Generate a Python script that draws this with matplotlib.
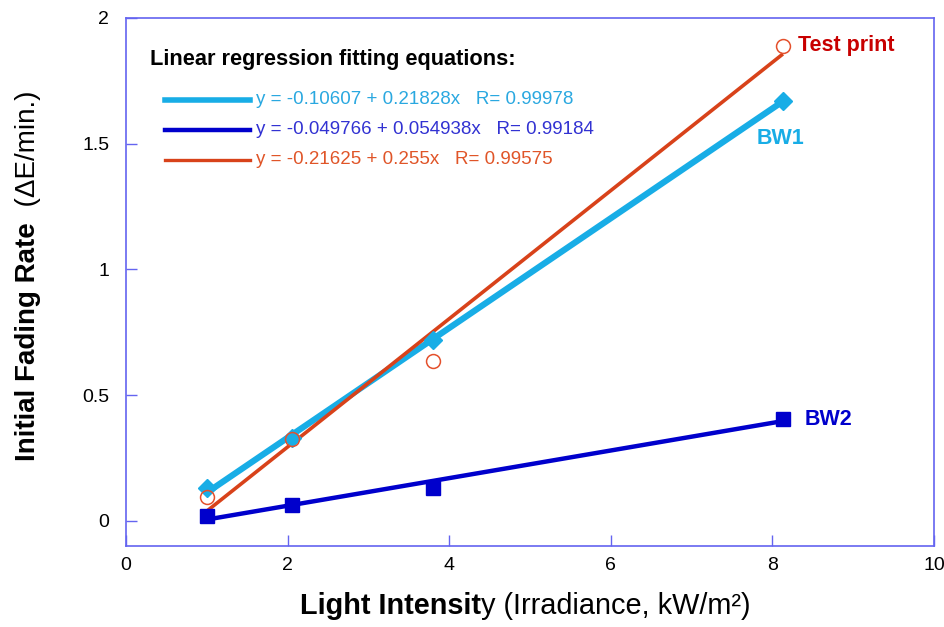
import matplotlib
matplotlib.use("Agg")
import matplotlib.pyplot as plt
import numpy as np

plt.rcParams["font.family"] = ["Liberation Sans", "DejaVu Sans"]

# Measured light intensity (kW/m²) and initial fading rates (ΔE/min.)
irradiance = [1.0, 2.05, 3.80, 8.13]
bw1_rate = [0.13, 0.33, 0.72, 1.67]
bw2_rate = [0.018, 0.062, 0.13, 0.405]
test_rate = [0.095, 0.325, 0.635, 1.89]

# Linear fits: (intercept, slope, R)
bw1_fit = (-0.10607, 0.21828, 0.99978)
bw2_fit = (-0.049766, 0.054938, 0.99184)
test_fit = (-0.21625, 0.255, 0.99575)

x_ticks = [0, 2, 4, 6, 8, 10]
y_ticks = [0, 0.5, 1, 1.5, 2]
y_tick_labels = ["0", "0.5", "1", "1.5", "2"]

c_bw1 = "#18ade6"
c_bw2 = "#0000cc"
c_test = "#d8421a"
c_test_marker = "#e4502c"
c_spine = "#6464f0"

fig = plt.figure(figsize=(9.45, 6.27), dpi=100)
ax = fig.add_axes([126 / 945, 1 - 546 / 627, (934 - 126) / 945, (546 - 18) / 627])

xs = np.array([irradiance[0], irradiance[-1]])

def fit_line(fit):
    return fit[0] + fit[1] * xs

ax.plot(xs, fit_line(bw1_fit), color=c_bw1, lw=4.5, solid_capstyle="butt", zorder=2)
ax.plot(xs, fit_line(test_fit), color=c_test, lw=2.6, solid_capstyle="butt", zorder=3)
ax.plot(xs, fit_line(bw2_fit), color=c_bw2, lw=3.2, solid_capstyle="butt", zorder=3)

ax.plot(irradiance, bw1_rate, ls="none", marker="D", ms=9, color=c_bw1, zorder=4)
ax.plot(irradiance, bw2_rate, ls="none", marker="s", ms=10, color=c_bw2, zorder=4)
ax.plot(irradiance, test_rate, ls="none", marker="o", ms=10, mfc="none",
        mec=c_test_marker, mew=1.1, zorder=5)

ax.set_xlim(0, 10)
ax.set_ylim(-0.1, 2)
ax.set_xticks(x_ticks)
ax.set_yticks(y_ticks)
ax.set_yticklabels(y_tick_labels)
ax.tick_params(direction="in", length=8, width=1, color=c_spine, labelsize=14)
ax.tick_params(axis="x", pad=8)
ax.tick_params(axis="y", pad=12)
for s in ax.spines.values():
    s.set_color(c_spine)
    s.set_linewidth(1.2)

# Series labels
ax.text(8.32, 1.89, "Test print", color="#c80000", fontsize=15.5, fontweight="bold",
        va="center", ha="left")
ax.text(7.8, 1.52, "BW1", color=c_bw1, fontsize=15.5, fontweight="bold",
        va="center", ha="left")
ax.text(8.4, 0.405, "BW2", color=c_bw2, fontsize=15.5, fontweight="bold",
        va="center", ha="left")

# Regression equation box
fig.text(150 / 945, 1 - 60 / 627, "Linear regression fitting equations:",
         fontsize=15.7, fontweight="bold", va="center", ha="left")
eq_rows = [
    (bw1_fit, c_bw1, "#2aa8e0", 4.0, 100),
    (bw2_fit, c_bw2, "#3232d2", 3.2, 130),
    (test_fit, c_test, "#e05528", 2.4, 160),
]
for fit, lc, tc, lw, ypix in eq_rows:
    yf = 1 - ypix / 627
    fig.add_artist(plt.Line2D([165 / 945, 250 / 945], [yf, yf], color=lc, lw=lw,
                              transform=fig.transFigure))
    b = f"{fit[0]:g}"
    m = f"{fit[1]:g}"
    fig.text(256 / 945, yf, f"y = {b} + {m}x   R= {fit[2]:g}", color=tc,
             fontsize=13.5, va="center", ha="left")

# Axis titles with mixed weights
t1 = fig.text(300 / 945, 1 - 614 / 627, "Light Intensit", fontsize=20.8,
              fontweight="bold", va="baseline", ha="left")
t1b = ax.annotate("y (Irradiance, kW/m²)", xy=(1, 0), xycoords=t1, va="bottom",
                  ha="left", fontsize=20.8)

y1 = fig.text(28 / 945, 1 - 461 / 627, "Initial Fading Rate", fontsize=20,
              fontweight="bold", rotation=90, va="bottom", ha="center")
y1b = ax.annotate("  (ΔE/min.)", xy=(0.5, 1), xycoords=y1, va="bottom",
                  ha="center", rotation=90, fontsize=20)

fig.savefig("out.png", dpi=100)
